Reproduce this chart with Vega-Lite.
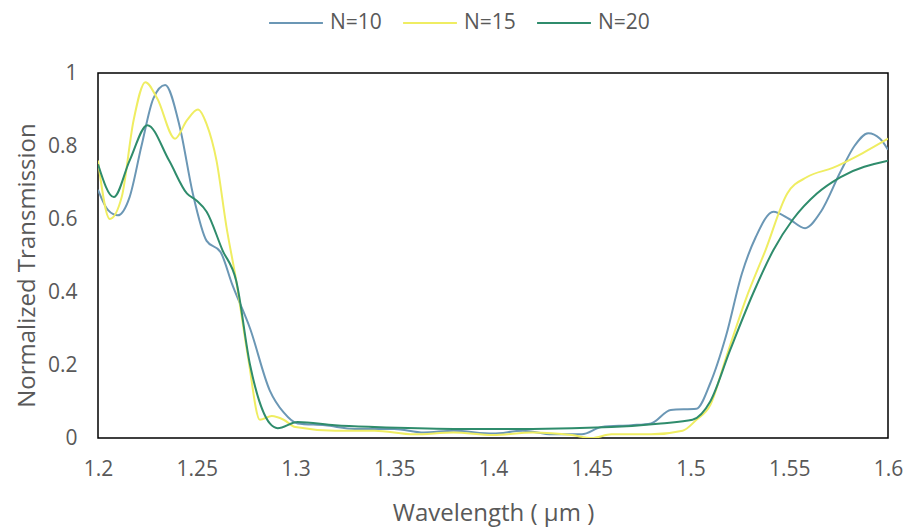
{
  "$schema": "https://vega.github.io/schema/vega-lite/v6.json",
  "width": 790,
  "height": 365,
  "autosize": {"type": "none"},
  "padding": {"left": 98, "top": 73, "right": 20, "bottom": 91},
  "background": "white",
  "config": {
    "font": "Open Sans",
    "view": {"stroke": "#000000", "strokeWidth": 1.5},
    "axis": {"grid": false, "ticks": false, "domain": false, "labelColor": "#595959", "titleColor": "#595959", "labelFontSize": 21, "titleFontSize": 24, "titleFontWeight": "normal"},
    "legend": {"labelColor": "#595959", "labelFontSize": 21}
  },
  "data": {"values": [
    {"w": 1.200, "t": 0.68, "s": "N=10"},
    {"w": 1.205, "t": 0.625, "s": "N=10"},
    {"w": 1.210, "t": 0.61, "s": "N=10"},
    {"w": 1.216, "t": 0.66, "s": "N=10"},
    {"w": 1.222, "t": 0.80, "s": "N=10"},
    {"w": 1.228, "t": 0.93, "s": "N=10"},
    {"w": 1.234, "t": 0.967, "s": "N=10"},
    {"w": 1.2415, "t": 0.85, "s": "N=10"},
    {"w": 1.248, "t": 0.67, "s": "N=10"},
    {"w": 1.255, "t": 0.54, "s": "N=10"},
    {"w": 1.262, "t": 0.51, "s": "N=10"},
    {"w": 1.268, "t": 0.42, "s": "N=10"},
    {"w": 1.277, "t": 0.30, "s": "N=10"},
    {"w": 1.287, "t": 0.13, "s": "N=10"},
    {"w": 1.294, "t": 0.07, "s": "N=10"},
    {"w": 1.301, "t": 0.04, "s": "N=10"},
    {"w": 1.315, "t": 0.035, "s": "N=10"},
    {"w": 1.330, "t": 0.025, "s": "N=10"},
    {"w": 1.350, "t": 0.025, "s": "N=10"},
    {"w": 1.365, "t": 0.015, "s": "N=10"},
    {"w": 1.380, "t": 0.02, "s": "N=10"},
    {"w": 1.400, "t": 0.012, "s": "N=10"},
    {"w": 1.415, "t": 0.02, "s": "N=10"},
    {"w": 1.430, "t": 0.01, "s": "N=10"},
    {"w": 1.445, "t": 0.01, "s": "N=10"},
    {"w": 1.455, "t": 0.03, "s": "N=10"},
    {"w": 1.470, "t": 0.035, "s": "N=10"},
    {"w": 1.480, "t": 0.04, "s": "N=10"},
    {"w": 1.490, "t": 0.077, "s": "N=10"},
    {"w": 1.503, "t": 0.08, "s": "N=10"},
    {"w": 1.510, "t": 0.15, "s": "N=10"},
    {"w": 1.518, "t": 0.28, "s": "N=10"},
    {"w": 1.526, "t": 0.45, "s": "N=10"},
    {"w": 1.533, "t": 0.55, "s": "N=10"},
    {"w": 1.542, "t": 0.62, "s": "N=10"},
    {"w": 1.550, "t": 0.60, "s": "N=10"},
    {"w": 1.558, "t": 0.575, "s": "N=10"},
    {"w": 1.566, "t": 0.62, "s": "N=10"},
    {"w": 1.576, "t": 0.73, "s": "N=10"},
    {"w": 1.583, "t": 0.80, "s": "N=10"},
    {"w": 1.590, "t": 0.835, "s": "N=10"},
    {"w": 1.596, "t": 0.82, "s": "N=10"},
    {"w": 1.600, "t": 0.79, "s": "N=10"},
    {"w": 1.200, "t": 0.76, "s": "N=15"},
    {"w": 1.206, "t": 0.60, "s": "N=15"},
    {"w": 1.212, "t": 0.66, "s": "N=15"},
    {"w": 1.218, "t": 0.87, "s": "N=15"},
    {"w": 1.224, "t": 0.975, "s": "N=15"},
    {"w": 1.230, "t": 0.93, "s": "N=15"},
    {"w": 1.239, "t": 0.82, "s": "N=15"},
    {"w": 1.245, "t": 0.87, "s": "N=15"},
    {"w": 1.2506, "t": 0.90, "s": "N=15"},
    {"w": 1.255, "t": 0.86, "s": "N=15"},
    {"w": 1.260, "t": 0.76, "s": "N=15"},
    {"w": 1.265, "t": 0.58, "s": "N=15"},
    {"w": 1.270, "t": 0.43, "s": "N=15"},
    {"w": 1.276, "t": 0.22, "s": "N=15"},
    {"w": 1.282, "t": 0.05, "s": "N=15"},
    {"w": 1.288, "t": 0.06, "s": "N=15"},
    {"w": 1.294, "t": 0.05, "s": "N=15"},
    {"w": 1.300, "t": 0.03, "s": "N=15"},
    {"w": 1.320, "t": 0.02, "s": "N=15"},
    {"w": 1.340, "t": 0.02, "s": "N=15"},
    {"w": 1.360, "t": 0.01, "s": "N=15"},
    {"w": 1.380, "t": 0.015, "s": "N=15"},
    {"w": 1.400, "t": 0.008, "s": "N=15"},
    {"w": 1.420, "t": 0.015, "s": "N=15"},
    {"w": 1.440, "t": 0.008, "s": "N=15"},
    {"w": 1.450, "t": 0.0, "s": "N=15"},
    {"w": 1.460, "t": 0.01, "s": "N=15"},
    {"w": 1.480, "t": 0.01, "s": "N=15"},
    {"w": 1.496, "t": 0.02, "s": "N=15"},
    {"w": 1.503, "t": 0.05, "s": "N=15"},
    {"w": 1.510, "t": 0.09, "s": "N=15"},
    {"w": 1.518, "t": 0.22, "s": "N=15"},
    {"w": 1.528, "t": 0.38, "s": "N=15"},
    {"w": 1.538, "t": 0.515, "s": "N=15"},
    {"w": 1.549, "t": 0.67, "s": "N=15"},
    {"w": 1.559, "t": 0.715, "s": "N=15"},
    {"w": 1.572, "t": 0.74, "s": "N=15"},
    {"w": 1.587, "t": 0.78, "s": "N=15"},
    {"w": 1.600, "t": 0.82, "s": "N=15"},
    {"w": 1.200, "t": 0.75, "s": "N=20"},
    {"w": 1.208, "t": 0.66, "s": "N=20"},
    {"w": 1.216, "t": 0.76, "s": "N=20"},
    {"w": 1.225, "t": 0.857, "s": "N=20"},
    {"w": 1.236, "t": 0.76, "s": "N=20"},
    {"w": 1.245, "t": 0.67, "s": "N=20"},
    {"w": 1.250, "t": 0.65, "s": "N=20"},
    {"w": 1.255, "t": 0.62, "s": "N=20"},
    {"w": 1.263, "t": 0.515, "s": "N=20"},
    {"w": 1.270, "t": 0.43, "s": "N=20"},
    {"w": 1.277, "t": 0.20, "s": "N=20"},
    {"w": 1.287, "t": 0.04, "s": "N=20"},
    {"w": 1.291, "t": 0.027, "s": "N=20"},
    {"w": 1.301, "t": 0.044, "s": "N=20"},
    {"w": 1.320, "t": 0.035, "s": "N=20"},
    {"w": 1.340, "t": 0.03, "s": "N=20"},
    {"w": 1.380, "t": 0.025, "s": "N=20"},
    {"w": 1.420, "t": 0.025, "s": "N=20"},
    {"w": 1.460, "t": 0.03, "s": "N=20"},
    {"w": 1.485, "t": 0.04, "s": "N=20"},
    {"w": 1.501, "t": 0.05, "s": "N=20"},
    {"w": 1.510, "t": 0.10, "s": "N=20"},
    {"w": 1.520, "t": 0.24, "s": "N=20"},
    {"w": 1.532, "t": 0.40, "s": "N=20"},
    {"w": 1.542, "t": 0.515, "s": "N=20"},
    {"w": 1.552, "t": 0.60, "s": "N=20"},
    {"w": 1.564, "t": 0.67, "s": "N=20"},
    {"w": 1.576, "t": 0.715, "s": "N=20"},
    {"w": 1.600, "t": 0.76, "s": "N=20"}
  ]},
  "mark": {"type": "line", "interpolate": "monotone", "strokeWidth": 2, "clip": true},
  "encoding": {
    "x": {"field": "w", "type": "quantitative", "title": "Wavelength ( μm )",
      "scale": {"domain": [1.2, 1.6], "nice": false, "zero": false},
      "axis": {"values": [1.2, 1.25, 1.3, 1.35, 1.4, 1.45, 1.5, 1.55, 1.6], "format": ".2~f", "labelFlush": false, "labelPadding": 20, "titlePadding": 22}},
    "y": {"field": "t", "type": "quantitative", "title": "Normalized Transmission",
      "scale": {"domain": [0, 1], "nice": false},
      "axis": {"values": [0, 0.2, 0.4, 0.6, 0.8, 1], "format": ".1~f", "labelFlush": false, "labelPadding": 21, "titlePadding": 8, "titleY": 192}},
    "color": {"field": "s", "type": "nominal", "title": null,
      "scale": {"domain": ["N=10", "N=15", "N=20"], "range": ["#6b97b5", "#efed62", "#2f8c6c"]},
      "legend": {"orient": "none", "legendX": 170, "legendY": -78, "direction": "horizontal", "symbolType": "stroke", "symbolSize": 2900, "symbolStrokeWidth": 2, "labelOffset": 6, "columnPadding": 17}}
  }
}
